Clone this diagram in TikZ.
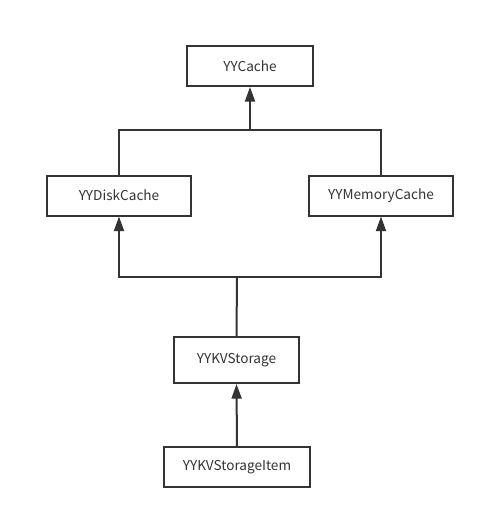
\documentclass[tikz,border=0pt]{standalone}
\usepackage{fontspec}
\setmainfont{Noto Sans CJK SC}
\usetikzlibrary{arrows.meta}
\definecolor{ink}{HTML}{333333}
\begin{document}
\begin{tikzpicture}[x=0.75pt,y=-0.75pt,
  box/.style={draw=ink,line width=1.5pt,minimum width=#1,minimum height=30pt,inner sep=0pt,font=\fontsize{10.2}{12}\selectfont,text=ink},
  conn/.style={draw=ink,line width=1.5pt},
  arr/.style={conn,-{Triangle[length=11pt,width=7.5pt]}}]
\useasboundingbox (0,0) rectangle (485,519);
\node[box=94.5pt] (cache) at (250,66) {YYCache};
\node[box=108pt] (disk) at (119,195.5) {YYDiskCache};
\node[box=108pt] (mem) at (381,195.5) {YYMemoryCache};
\node[box=93.75pt,minimum height=34.5pt] (kv) at (236.5,360) {YYKVStorage};
\node[box=109.5pt] (item) at (237,467) {YYKVStorageItem};
\coordinate (top) at (250,130);
\coordinate (bot) at (237,277);
\draw[conn] (disk.north) |- (top) -| (mem.north);
\draw[arr] (top) -- (cache.south);
\draw[conn] (kv.north) -- (bot);
\draw[arr] (bot) -| (disk.south);
\draw[arr] (bot) -| (mem.south);
\draw[arr] (item.north) -- (kv.south);
\end{tikzpicture}
\end{document}
